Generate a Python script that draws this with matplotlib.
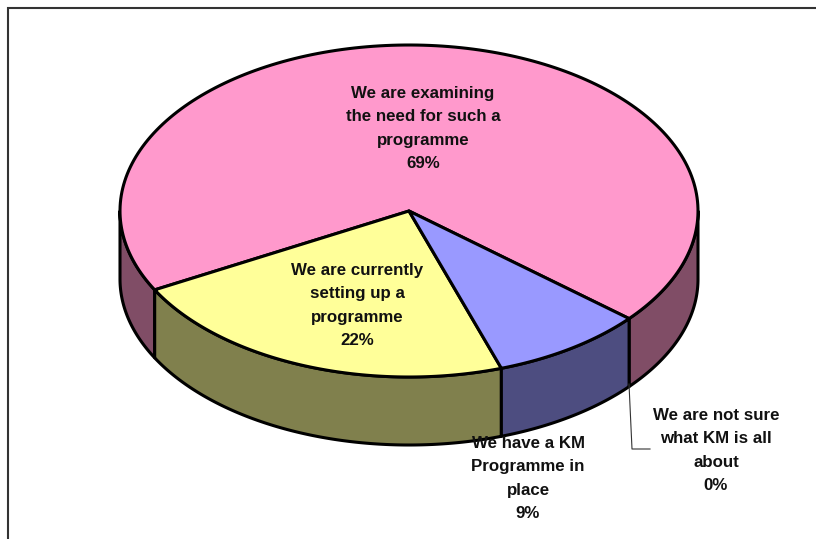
"""
Flat 3D style pie of KM programme survey answers, drawn on a pixel sized axes.
"""
import numpy as np
import matplotlib
matplotlib.use("Agg")
import matplotlib.pyplot as plt
from matplotlib.patches import Polygon

labels = ["We are examining\nthe need for such a\nprogramme",
          "We are currently\nsetting up a\nprogramme",
          "We have a KM\nProgramme in\nplace",
          "We are not sure\nwhat KM is all\nabout"]
values = [69.1, 22.3, 8.6, 0]
top_colors = ["#ff99cc", "#ffff99", "#9999ff", "#ffffff"]
side_colors = ["#804d66", "#80804d", "#4d4d80", "#ffffff"]
label_pos = [(423, 128.5), (357, 305.5), (528, 478.5), (716, 450.5)]
start_angle = -40.4

cx, cy = 409, 211
rx, ry = 289, 166
depth = 68

plt.rcParams["font.family"] = ["Liberation Sans", "DejaVu Sans"]
fig = plt.figure(figsize=(8.16, 5.39), dpi=100)
ax = fig.add_axes([0, 0, 1, 1])
ax.set_xlim(0, 816)
ax.set_ylim(539, 0)
ax.axis("off")


def rim(a0, a1, dy=0):
    t = np.radians(np.linspace(a0, a1, 200))
    return np.column_stack([cx + rx * np.cos(t), cy - ry * np.sin(t) + dy])


# frame, cut by the right and bottom edges of the picture
ax.plot([8, 8, 816], [539, 8, 8], color="#333333", lw=1.5, solid_joinstyle="miter")

edges = start_angle + np.cumsum([0] + values) * 3.6

# side walls, only the front half of the rim shows
for i in range(len(values)):
    for lo, hi in [(edges[i], edges[i + 1]), (edges[i] - 360, edges[i + 1] - 360)]:
        a0, a1 = max(lo, -180), min(hi, 0)
        if a1 > a0:
            pts = np.vstack([rim(a0, a1), rim(a1, a0, depth)])
            ax.add_patch(Polygon(pts, closed=True, fc=side_colors[i], ec="black",
                                 lw=2.2, joinstyle="round"))

# top faces
for i in range(len(values)):
    if values[i] > 0:
        pts = np.vstack([[cx, cy], rim(edges[i], edges[i + 1])])
        ax.add_patch(Polygon(pts, closed=True, fc=top_colors[i], ec="black",
                             lw=2.2, joinstyle="round"))

# leader line of the 0% slice
ax.plot([629, 632, 650], [384, 449, 449], color="#333333", lw=0.8)

for i in range(len(values)):
    ax.text(label_pos[i][0], label_pos[i][1], "%s\n%.0f%%" % (labels[i], values[i]),
            ha="center", va="center", ma="center", fontsize=12.2, fontweight="bold",
            color="#111111", linespacing=1.69, zorder=5)

fig.savefig("out.png", dpi=100)
